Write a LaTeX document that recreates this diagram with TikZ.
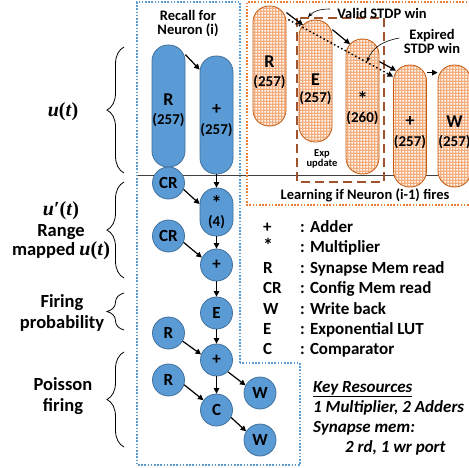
\documentclass[tikz,border=0pt]{standalone}
\usepackage{fontspec}
\setmainfont{Carlito}
\newfontfamily\mserif{Liberation Serif}
\usetikzlibrary{arrows.meta,decorations.pathreplacing,patterns}
\pgfdeclarepatternformonly{wsq}{\pgfpointorigin}{\pgfpoint{3pt}{3pt}}{\pgfpoint{3pt}{3pt}}{\pgfpathrectangle{\pgfpoint{0.45pt}{0.45pt}}{\pgfpoint{2.1pt}{2.1pt}}\pgfusepath{fill}}
\definecolor{blueF}{HTML}{5B9BD5}
\definecolor{blueB}{HTML}{41719C}
\definecolor{blueDot}{HTML}{5B9BD5}
\definecolor{orDot}{HTML}{ED7D31}
\definecolor{orB}{HTML}{C55A11}
\definecolor{orF}{HTML}{F4AE7E}
\definecolor{brownD}{HTML}{A0522D}
\definecolor{sepC}{HTML}{404040}
\newcommand\fsz[1]{\fontsize{#1}{#1}\selectfont\bfseries}
\newcommand\mathu{{\mserif\fontsize{20}{20}\selectfont\bfseries\itshape u\/\upshape(\itshape t\/\upshape)}}
\newcommand\mathup{{\mserif\fontsize{20}{20}\selectfont\bfseries\itshape u\/\upshape′(\itshape t\/\upshape)}}
\begin{document}
\begin{tikzpicture}[x=1pt,y=-1pt,
  bpill/.style={draw=blueB, fill=blueF, line width=0.8pt, rounded corners=16pt, minimum width=33pt, inner sep=0pt},
  opill/.style={draw=orB, line width=0.8pt, rounded corners=16pt, minimum width=33pt, inner sep=0pt, preaction={fill=orF}, pattern=wsq, pattern color=white},
  bcirc/.style={circle, draw=blueB, fill=blueF, line width=0.8pt, minimum size=32pt, inner sep=0pt, font=\fsz{17}},
  big/.style={font=\fsz{18}, inner sep=0pt},
  star/.style={font=\fsz{21}, inner sep=0pt},
  num/.style={font=\fsz{15}, inner sep=0pt},
  arr/.style={-{Triangle[length=5.5pt,width=5.5pt]}, line width=1.2pt},
  bdots/.style={draw=blueDot, line width=1.8pt, dash pattern=on 1.6pt off 1.6pt},
  odots/.style={draw=orDot, line width=1.8pt, dash pattern=on 1.6pt off 1.6pt},
  brc/.style={decorate, decoration={brace, amplitude=17pt}, line width=0.8pt},
  lbl/.style={font=\fsz{18.5}, align=center},
  note/.style={font=\fsz{14.5}, align=center},
  thinarr/.style={-{Stealth[length=5pt,width=4pt]}, line width=0.6pt}
]
\useasboundingbox (0,0) rectangle (469,467);

% separator line
\draw[sepC, line width=1pt] (137,175) -- (480,175);

% region borders
\draw[bdots] (240,363) -- (240,2) -- (137,2) -- (137,465) -- (300,465) -- (300,363) -- cycle;
\draw[odots] (480,2) -- (247,2) -- (247,205) -- (480,205);

% titles
\node[note] (title) at (188,24) {Recall for\\[-0.5pt]Neuron (i)};
\node[note] (learn) at (365,195) {Learning if Neuron (i-1) fires};

% dashed window
\draw[brownD, line width=1.3pt, dash pattern=on 9pt off 5pt] (297,18) rectangle (384,182);

% recall nodes
\node[bpill, minimum height=122pt, label={[big,yshift=6pt]center:R}, label={[num,yshift=-14pt]center:(257)}] (rA) at (168.5,106) {};
\node[bpill, minimum height=118pt, label={[big,yshift=5pt]center:+}, label={[num,yshift=-15pt]center:(257)}] (pA) at (216.5,115) {};
\node[bpill, minimum height=48pt, label={[star,yshift=9pt]center:*}, label={[num,yshift=-10pt]center:(4)}] (mA) at (216.5,212) {};
\node[bcirc] (cr1) at (168.5,183) {CR};
\node[bcirc] (cr2) at (168.5,236) {CR};
\node[bcirc] (add1) at (216.5,265) {+};
\node[bcirc] (eB) at (216.5,313) {E};
\node[bcirc] (r1) at (168.5,333) {R};
\node[bcirc] (add2) at (216.5,360) {+};
\node[bcirc] (r2) at (168.5,380) {R};
\node[bcirc] (cB) at (216.5,410) {C};
\node[bcirc] (w1) at (260,393) {W};
\node[bcirc] (w2) at (260,440) {W};

% recall arrows
\draw[arr] ([yshift=-10pt]rA.north east) -- ([yshift=-14pt]pA.north west);
\draw[arr] (pA.south) -- (mA.north);
\draw[arr] (cr1.-23) -- ([yshift=8pt]mA.west);
\draw[arr] (mA.south) -- (add1.north);
\draw[arr] (cr2.-23) -- (add1.153);
\draw[arr] (add1.south) -- (eB.north);
\draw[arr] (eB.south) -- (add2.north);
\draw[arr] (r1.-30) -- (add2.160);
\draw[arr] (add2.south) -- (cB.north);
\draw[arr] (r2.-17) -- (cB.143);
\draw[arr] (add2.-46) -- (w1.152);
\draw[arr] (cB.-27) -- (w2.148);

% learning nodes
\node[opill, minimum height=120pt, label={[big,yshift=4pt]center:R}, label={[num,yshift=-16pt]center:(257)}] (oR) at (269.5,66) {};
\node[opill, minimum height=122pt, label={[big,yshift=1pt]center:E}, label={[num,yshift=-17pt]center:(257)}] (oE) at (315.5,81) {};
\node[opill, minimum height=135pt, label={[star,yshift=7.5pt]center:*}, label={[num,yshift=-11.5pt]center:(260)}] (oM) at (362.5,106.5) {};
\node[opill, minimum height=122pt, label={[big,yshift=4pt]center:+}, label={[num,yshift=-16pt]center:(257)}] (oA) at (410,126) {};
\node[opill, minimum height=122pt, label={[big,yshift=4pt]center:W}, label={[num,yshift=-16pt]center:(257)}] (oW) at (454.5,126) {};

\node[font=\fsz{10.5}, align=center] (exp) at (322,159) {Exp\\[-1pt]update};

% learning arrows
\draw[arr] ([yshift=-7pt]oR.north east) -- ([xshift=-12.5pt,yshift=-5.5pt]oE.north);
\draw[arr] ([yshift=-10pt]oE.north east) -- ([xshift=-12.5pt,yshift=-5.5pt]oM.north);
\draw[arr] ([yshift=-23pt]oM.north east) -- ([xshift=-14pt,yshift=-6pt]oA.north);
\draw[arr] ([yshift=-8pt]oA.north east) -- ([yshift=-8pt]oW.north west);
\draw[-{Triangle[length=5.5pt,width=5.5pt]}, line width=1.5pt, dash pattern=on 1.5pt off 2.5pt] ([xshift=2pt,yshift=-14pt]oR.north east) -- ([yshift=-12pt]oA.north west);

% annotations
\node[note] (valid) at (382,13) {Valid STDP win};
\coordinate (vEnd) at (308,17);
\draw[thinarr] ([xshift=-4pt,yshift=4pt]valid.west) to[out=180,in=45] (vEnd);
\node[note] (expired) at (432,41) {Expired\\[-0.5pt]STDP win};
\coordinate (eEnd) at (367,62);
\draw[thinarr] ([xshift=-1pt,yshift=3pt]expired.west) to[out=190,in=70] (eEnd);

% braces
\draw[brc] (124,173) -- (124,47);
\draw[brc] (124,278) -- (124,182);
\draw[brc] (124,330) -- (124,293);
\draw[brc] (124,447) -- (124,352);

% left labels
\node[lbl] (lu) at (63,112) {\mathu};
\node[lbl] (lrange) at (61,231) {\mathup\\[2pt]Range\\[1pt]mapped \mathu};
\node[lbl] (lfire) at (62,313) {Firing\\[3pt]probability};
\node[lbl] (lpois) at (63,396) {Poisson\\[3pt]firing};

% legend
\node[anchor=north west, inner sep=0pt, font=\fsz{17}] (legend) at (263,218)
 {\fontsize{17}{20.4}\selectfont\bfseries
  \begin{tabular}{@{}p{37pt}@{}l@{}}
  + & : Adder\\
  {\fontsize{20}{20}\selectfont *} & : Multiplier\\
  R & : Synapse Mem read\\
  CR & : Config Mem read\\
  W & : Write back\\
  E & : Exponential LUT\\
  C & : Comparator
  \end{tabular}};

\node[anchor=north west, inner sep=0pt, align=left, font=\fontsize{17}{20}\selectfont\bfseries\itshape] (keyres) at (313,381)
 {\underline{Key Resources}\\
  1 Multiplier, 2 Adders\\
  Synapse mem:\\
  \hspace{32pt}2 rd, 1 wr port};
\end{tikzpicture}
\end{document}
